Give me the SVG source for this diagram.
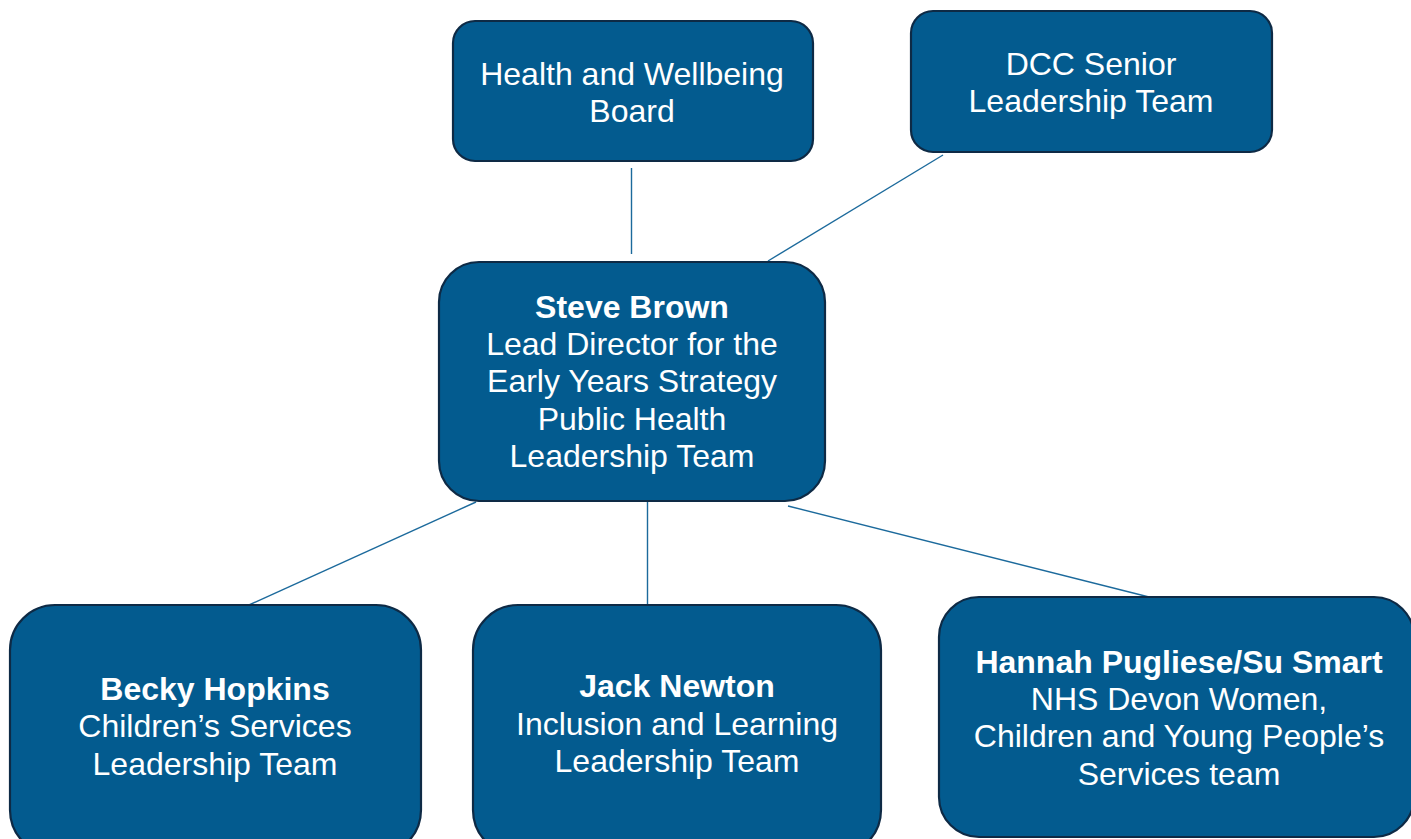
<svg xmlns="http://www.w3.org/2000/svg" width="1411" height="839" viewBox="0 0 1411 839">
<style>
.box{fill:#035b8f;stroke:#0e2a45;stroke-width:2.2}
.t{font-family:"Liberation Sans",Arial,sans-serif;font-size:32px;fill:#ffffff;text-anchor:middle}
.b{font-weight:bold}
.c{stroke:#1c6a9c;stroke-width:1.4;fill:none}
</style>
<rect width="1411" height="839" fill="#ffffff"/>
<g id="connectors">
<line class="c" x1="631.5" y1="168" x2="631.5" y2="254"/>
<line class="c" x1="943" y1="155" x2="768" y2="261"/>
<line class="c" x1="476" y1="502" x2="249" y2="605"/>
<line class="c" x1="647.5" y1="502" x2="647.5" y2="605"/>
<line class="c" x1="788" y1="506" x2="1153" y2="598"/>
</g>
<g id="hwb">
<rect class="box" x="453" y="21" width="360" height="140" rx="22"/>
<text class="t" x="632" y="85">Health and Wellbeing</text>
<text class="t" x="632" y="122">Board</text>
</g>
<g id="dcc">
<rect class="box" x="911" y="11" width="361" height="141" rx="22"/>
<text class="t" x="1091" y="75">DCC Senior</text>
<text class="t" x="1091" y="112">Leadership Team</text>
</g>
<g id="steve">
<rect class="box" x="439" y="262" width="386" height="239" rx="40"/>
<text class="t b" x="632" y="318">Steve Brown</text>
<text class="t" x="632" y="355">Lead Director for the</text>
<text class="t" x="632" y="392">Early Years Strategy</text>
<text class="t" x="632" y="430">Public Health</text>
<text class="t" x="632" y="467">Leadership Team</text>
</g>
<g id="becky">
<rect class="box" x="10" y="605" width="411" height="250" rx="45"/>
<text class="t b" x="215" y="700">Becky Hopkins</text>
<text class="t" x="215" y="737">Children’s Services</text>
<text class="t" x="215" y="775">Leadership Team</text>
</g>
<g id="jack">
<rect class="box" x="473" y="605" width="408" height="250" rx="45"/>
<text class="t b" x="677" y="697">Jack Newton</text>
<text class="t" x="677" y="735">Inclusion and Learning</text>
<text class="t" x="677" y="772">Leadership Team</text>
</g>
<g id="hannah">
<rect class="box" x="939" y="597" width="475" height="240" rx="40"/>
<text class="t b" x="1179" y="673">Hannah Pugliese/Su Smart</text>
<text class="t" x="1179" y="710">NHS Devon Women,</text>
<text class="t" x="1179" y="747">Children and Young People’s</text>
<text class="t" x="1179" y="785">Services team</text>
</g>
</svg>
